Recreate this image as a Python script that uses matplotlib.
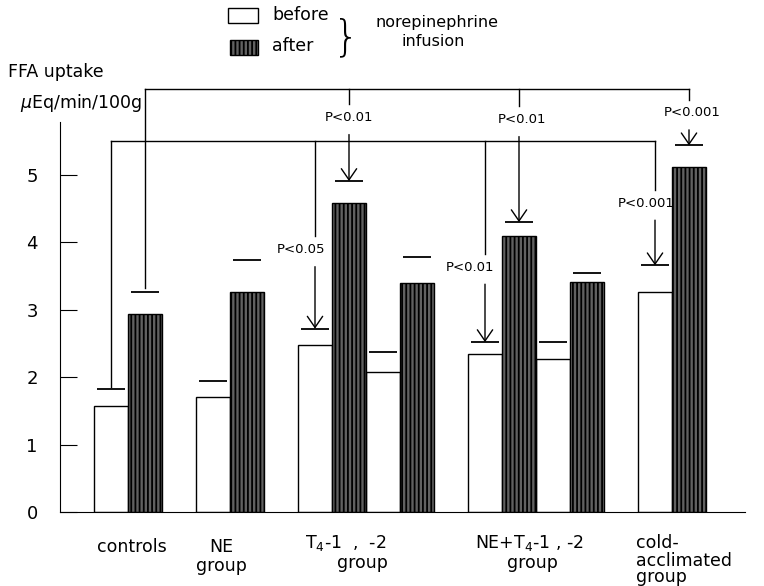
import matplotlib.pyplot as plt
from matplotlib.patches import Rectangle

# FFA uptake (uEq/min/100g)
groups = ["controls", "NE", "T4-1", "T4-2", "NE+T4-1", "NE+T4-2", "cold"]
before = [1.57, 1.70, 2.48, 2.08, 2.34, 2.27, 3.26]
after = [2.94, 3.27, 4.59, 3.40, 4.09, 3.41, 5.12]
before_se = [0.25, 0.25, 0.24, 0.30, 0.18, 0.25, 0.40]
after_se = [0.32, 0.47, 0.32, 0.38, 0.21, 0.14, 0.32]

# significance: group index, p-text for before (inner bracket) and after (outer bracket)
sig_groups = [2, 4, 6]
p_before = ["P<0.05", "P<0.01", "P<0.001"]
p_after = ["P<0.01", "P<0.01", "P<0.001"]
p_before_y = [3.89, 3.63, 4.58]
p_after_y = [5.85, 5.82, 5.92]

yticks = [0, 1, 2, 3, 4, 5]

# layout
left_edges = [1, 4, 7, 9, 12, 14, 17]
w = 1.0
inner_level = 5.50
outer_level = 6.28
p_before_dx = [-0.4, -0.45, -0.25]
p_after_dx = [0.0, 0.1, 0.1]

plt.rcParams['hatch.linewidth'] = 1.3
fig = plt.figure(figsize=(7.64, 5.86), dpi=100)
ax = fig.add_axes([60 / 764, 1 - 512 / 586, 685 / 764, (512 - 74) / 586])
ax.set_xlim(0, 685 / 34)
ax.set_ylim(0, 438 / 67.4)

bx = [x + w / 2 for x in left_edges]
ax_ = [x + 3 * w / 2 for x in left_edges]
ax.bar(bx, before, width=w, color='white', edgecolor='black', lw=1)
ax.bar(ax_, after, width=w, color='0.38', edgecolor='black', lw=1, hatch='||||')

# SE marks
for i in range(len(groups)):
    ax.hlines(before[i] + before_se[i], bx[i] - 0.42, bx[i] + 0.42, color='black', lw=1.3)
    ax.hlines(after[i] + after_se[i], ax_[i] - 0.42, ax_[i] + 0.42, color='black', lw=1.3)

# brackets
kw = dict(color='black', lw=1, clip_on=False)
ax.plot([bx[0], bx[6]], [inner_level, inner_level], **kw)
ax.plot([ax_[0], ax_[6]], [outer_level, outer_level], **kw)
ax.plot([bx[0], bx[0]], [inner_level, before[0] + before_se[0] + 0.04], **kw)
ax.plot([ax_[0], ax_[0]], [outer_level, after[0] + after_se[0] + 0.07], **kw)

arrow = dict(arrowstyle='->,head_length=0.8,head_width=0.55', lw=1, color='black',
             shrinkA=0, shrinkB=0)
for k, g in enumerate(sig_groups):
    for xc, lev, ty, dx, txt, top in [
        (bx[g], inner_level, p_before_y[k], p_before_dx[k], p_before[k], before[g] + before_se[g]),
        (ax_[g], outer_level, p_after_y[k], p_after_dx[k], p_after[k], after[g] + after_se[g]),
    ]:
        ax.plot([xc, xc], [lev, ty + 0.2], **kw)
        ax.text(xc + dx, ty, txt, ha='center', va='center', fontsize=9.5)
        ax.annotate('', xy=(xc, top), xytext=(xc, ty - 0.25), arrowprops=arrow,
                    annotation_clip=False)

# axes styling
ax.spines['top'].set_visible(False)
ax.spines['right'].set_visible(False)
ax.spines['left'].set_bounds(0, 5.79)
ax.set_yticks(yticks)
ax.set_yticklabels([str(t) for t in yticks], fontsize=13)
ax.tick_params(axis='y', direction='in', length=12, pad=16)
ax.set_xticks([])

# category labels
lab = dict(fontsize=12.5, va='center', clip_on=False)
ax.text(2.1, -0.52, "controls", ha='center', **lab)
ax.text(4.75, -0.52, "NE", ha='center', **lab)
ax.text(4.75, -0.80, "group", ha='center', **lab)
ax.text(8.4, -0.46, r"T$_4$-1  ,  -2", ha='center', **lab)
ax.text(8.9, -0.76, "group", ha='center', **lab)
ax.text(13.8, -0.46, r"NE+T$_4$-1 , -2", ha='center', **lab)
ax.text(13.9, -0.76, "group", ha='center', **lab)
ax.text(16.95, -0.46, "cold-", ha='left', **lab)
ax.text(16.95, -0.72, "acclimated", ha='left', **lab)
ax.text(16.95, -0.97, "group", ha='left', **lab)

# y axis title
fig.text(8 / 764, 1 - 72 / 586, "FFA uptake", fontsize=12.5, va='center')
fig.text(20 / 764, 1 - 103 / 586, r"$\mu$Eq/min/100g", fontsize=12.5, va='center')

# legend
fig.add_artist(Rectangle((228 / 764, 1 - 23 / 586), 30 / 764, 15 / 586,
                         transform=fig.transFigure, facecolor='white', edgecolor='black', lw=1))
fig.add_artist(Rectangle((230 / 764, 1 - 55 / 586), 28 / 764, 15 / 586,
                         transform=fig.transFigure, facecolor='0.38', edgecolor='black',
                         lw=1, hatch='||||'))
fig.text(272 / 764, 1 - 15 / 586, "before", fontsize=12.5, va='center')
fig.text(272 / 764, 1 - 46 / 586, "after", fontsize=12.5, va='center')
fig.text(346 / 764, 1 - 38 / 586, "}", fontsize=30, va='center', ha='center',
         fontweight='light')
fig.text(437 / 764, 1 - 23 / 586, "norepinephrine", fontsize=11.5, va='center', ha='center')
fig.text(433 / 764, 1 - 42 / 586, "infusion", fontsize=11.5, va='center', ha='center')

plt.savefig("out.png", dpi=100)
